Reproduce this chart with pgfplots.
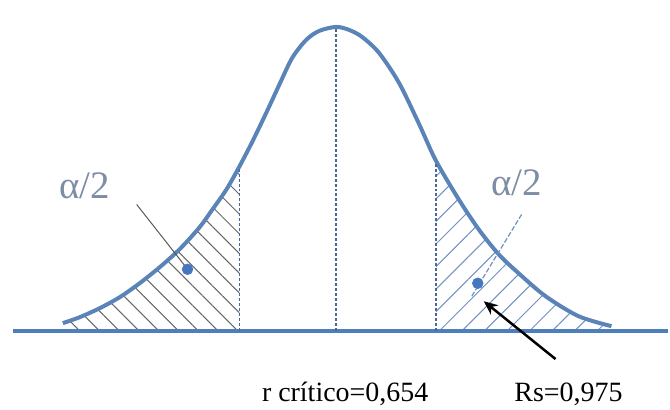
\documentclass[border=0pt]{standalone}
\usepackage{pgfplots}
\pgfplotsset{compat=1.18}
\usepgfplotslibrary{fillbetween}
\usetikzlibrary{patterns.meta,arrows.meta}
\usepackage{fontspec}
\setmainfont{Liberation Serif}

\definecolor{curveblue}{HTML}{5A84B8}
\definecolor{baseblue}{HTML}{4F7FBA}
\definecolor{dashblue}{HTML}{4A6798}
\definecolor{labelgray}{HTML}{7D8DA6}
\definecolor{blobblue}{HTML}{4677BE}
\definecolor{hatchright}{HTML}{6F90C0}

% bell curve traced as (position, height above the baseline)
\pgfplotstableread{
x    h
63   8
80   14
100  23
120  34
140  48
160  64
180  82
200  104
213  122
227  142
240  165
253  190
267  219
280  247
293  274
307  292
320  301
337  305
350  302
363  295
380  279
400  249
420  208
437  171
460  132
480  102
500  77
520  58
547  35
580  15
613  5
}\bellcurve

\begin{document}
\begin{tikzpicture}
\begin{axis}[
  scale only axis, width=670pt, height=410pt,
  xmin=0, xmax=670, ymin=-78, ymax=332,
  hide axis, clip=false,
]
% baseline
\addplot[name path=base, baseblue, line width=3.5pt] coordinates {(13,0) (670,0)};
% density curve
\addplot[name path=curve, curveblue, line width=4pt, smooth, tension=0.5]
  table[x=x, y=h] {\bellcurve};

% shaded tails
\addplot[draw=none,
  pattern={Lines[angle=-45, distance=14pt, line width=1pt]},
  pattern color=black!60]
  fill between[of=curve and base, soft clip={domain=63:240}];
\addplot[draw=none,
  pattern={Lines[angle=45, distance=16pt, line width=1pt]},
  pattern color=hatchright]
  fill between[of=curve and base, soft clip={domain=437:613}];

% critical values and centre
\addplot[dashblue, line width=1.7pt, dash pattern=on 3pt off 2pt]
  coordinates {(240,0) (240,165)};
\addplot[dashblue, line width=1.7pt, dash pattern=on 3pt off 2pt]
  coordinates {(337,0) (337,304)};
\addplot[dashblue, line width=1.7pt, dash pattern=on 3pt off 2pt]
  coordinates {(437,0) (437,170)};

% pointers from the alpha/2 labels
\addplot[black!65, line width=1pt] coordinates {(137,127) (185,66)};
\addplot[hatchright, line width=1.2pt, dash pattern=on 5pt off 2pt]
  coordinates {(523,117) (473,35)};
\addplot[only marks, mark=*, mark size=5.5pt, blobblue] coordinates {(188,62) (479,48)};

% arrow to Rs
\addplot[black, line width=2.5pt, -{Stealth[length=14pt, width=12pt]}]
  coordinates {(557,-28) (485,30)};

\node[labelgray, font=\fontsize{39}{39}\selectfont] at (axis cs:85,146) {α/2};
\node[labelgray, font=\fontsize{39}{39}\selectfont] at (axis cs:518,149) {α/2};
\node[font=\fontsize{28}{28}\selectfont] at (axis cs:346,-63) {r crítico=0,654};
\node[font=\fontsize{28}{28}\selectfont] at (axis cs:570,-63) {Rs=0,975};
\end{axis}
\path (current axis.south west) rectangle (current axis.north east);
\end{tikzpicture}
\end{document}
